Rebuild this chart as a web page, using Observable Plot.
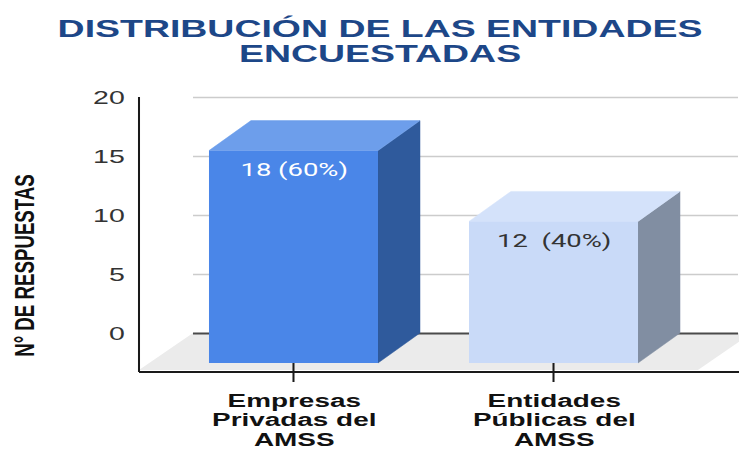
<!DOCTYPE html>
<html>
<head>
<meta charset="utf-8">
<script src="https://cdn.jsdelivr.net/npm/d3@7"></script>
<script src="https://cdn.jsdelivr.net/npm/@observablehq/plot@0.6"></script>
<style>
  html, body { margin: 0; padding: 0; background: #fff; overflow: hidden; }
  #title {
    width: 739px; height: 80px; box-sizing: border-box; padding-top: 15.5px;
    font-family: "Liberation Sans", Arial, sans-serif; font-weight: bold;
    font-size: 24px; line-height: 25px; color: #1d4788; text-align: center;
    transform: scaleX(1.56); transform-origin: 350.7px 0;
  }
</style>
</head>
<body>
<div id="title">DISTRIBUCIÓN DE LAS ENTIDADES<br>ENCUESTADAS</div>
<div id="chart"></div>
<script>
// ---- data ----
const categories = ["Empresas\nPrivadas del\nAMSS", "Entidades\nPúblicas del\nAMSS"];
const counts = [18, 12];
const barLabels = ["18 (60%)", "12  (40%)"];
const yTicks = [0, 5, 10, 15, 20];
const yTitle = "N° DE RESPUESTAS";

// ---- styles ----
const frontColors = ["#4a86e8", "#c9daf8"];
const topColors = ["#6d9eeb", "#d4e2fa"];
const sideColors = ["#2f5a9c", "#818ea2"];
const labelColors = ["#ffffff", "#333333"];

const rows = categories.map((c, i) => ({
  cat: c, value: counts[i], label: barLabels[i],
  front: frontColors[i], labelColor: labelColors[i]
}));

// The picture is stretched horizontally; draw in a narrower space and stretch.
const SX = 1.5;
const W = 739 / SX, H = 370;
const DEPTH_DX = 28, DEPTH_DY = 30;   // bar depth
const FLOOR_DX = 36, FLOOR_DY = 39;   // floor depth
const FLOOR_EXTRA = 9.3;

function floorMark(index, scales, values, dims) {
  const y = scales.y;
  const y0 = y(0);
  const x0 = dims.marginLeft, x1 = dims.width - dims.marginRight + FLOOR_EXTRA;
  const pts = [[x0, y0], [x1, y0], [x1 - FLOOR_DX, y0 + FLOOR_DY - 2], [x0 - FLOOR_DX, y0 + FLOOR_DY - 2]];
  return d3.create("svg:path")
    .attr("d", "M" + pts.map(p => p.join(",")).join("L") + "Z")
    .attr("fill", "#ebebeb").node();
}

function facesMark(index, scales, values, dims) {
  const x = scales.x, y = scales.y, bw = x.bandwidth();
  const g = d3.create("svg:g");
  rows.forEach((r, i) => {
    const bx0 = x(r.cat), bx1 = bx0 + bw, by0 = y(0), by1 = y(r.value);
    const fx0 = bx0 - DEPTH_DX, fx1 = bx1 - DEPTH_DX, fy0 = by0 + DEPTH_DY, fy1 = by1 + DEPTH_DY;
    g.append("path")
      .attr("d", `M${fx1},${fy1}L${bx1},${by1}L${bx1},${by0}L${fx1},${fy0}Z`)
      .attr("fill", sideColors[i]).attr("stroke", sideColors[i]).attr("stroke-width", 0.4);
    g.append("path")
      .attr("d", `M${fx0},${fy1}L${bx0},${by1}L${bx1},${by1}L${fx1},${fy1}Z`)
      .attr("fill", topColors[i]).attr("stroke", topColors[i]).attr("stroke-width", 0.4);
  });
  return g.node();
}

function axesMark(index, scales, values, dims) {
  const x = scales.x, y = scales.y, bw = x.bandwidth();
  const left = dims.marginLeft - FLOOR_DX, bottom = y(0) + FLOOR_DY;
  const g = d3.create("svg:g").attr("stroke", "#1a1a1a").attr("fill", "none");
  g.append("path").attr("d", `M${left},${y(y.domain()[1])}V${bottom}`).attr("stroke-width", 1.35);
  g.append("path").attr("d", `M${left},${bottom}H${dims.width}`).attr("stroke-width", 2);
  categories.forEach(c => {
    const cx = x(c) + bw / 2 - DEPTH_DX;
    g.append("path").attr("d", `M${cx},${y(0) + DEPTH_DY}V${y(0) + 49}`).attr("stroke-width", 1.35);
  });
  return g.node();
}

const chart = Plot.plot({
  width: W, height: H,
  marginLeft: 193 / SX, marginRight: 1 / SX, marginTop: 17, marginBottom: 117,
  x: {domain: categories, paddingInner: 0.35, paddingOuter: 0.223, round: false, axis: null},
  y: {domain: [0, 20], axis: null},
  color: {type: "identity"},
  style: {fontFamily: "Liberation Sans, Arial, sans-serif", background: "white"},
  marks: [
    Plot.ruleY(yTicks.filter(d => d > 0), {y: d => d, stroke: "#cccccc", strokeWidth: 1.3}),
    floorMark,
    Plot.ruleY([0], {stroke: "#4a4a4a", strokeWidth: 1.8}),
    facesMark,
    Plot.barY(rows, {x: "cat", y: "value", fill: "front", dx: -DEPTH_DX, dy: DEPTH_DY}),
    axesMark,
    Plot.text(rows, {x: "cat", y: "value", text: "label", fill: "labelColor",
      dx: -DEPTH_DX, dy: 55, lineAnchor: "bottom", fontFamily: "Roboto", fontSize: 18.3}),
    Plot.text(yTicks, {y: d => d, text: d => String(d), frameAnchor: "left", textAnchor: "end",
      dx: -46, fontSize: 19, fill: "#333333"}),
    Plot.text(categories, {x: d => d, text: d => d, frameAnchor: "bottom", lineAnchor: "top",
      textAnchor: "middle", dx: -DEPTH_DX, dy: 59, fontWeight: "bold", fontSize: 18.6,
      lineHeight: 1.06, fill: "#111111"}),
    Plot.text([yTitle], {text: d => d, frameAnchor: "left", textAnchor: "middle", rotate: -90,
      dx: 16 - 193 / SX, dy: 50, fontWeight: "bold", fontSize: 18.7, fill: "#111111"})
  ]
});

chart.setAttribute("viewBox", `0 0 ${W} ${H}`);
chart.setAttribute("width", 739);
chart.setAttribute("height", H);
chart.setAttribute("preserveAspectRatio", "none");
chart.style.width = "739px";
chart.style.height = H + "px";
chart.style.maxWidth = "none";
chart.style.overflow = "hidden";
chart.style.display = "block";
document.getElementById("chart").appendChild(chart);
</script>
</body>
</html>
